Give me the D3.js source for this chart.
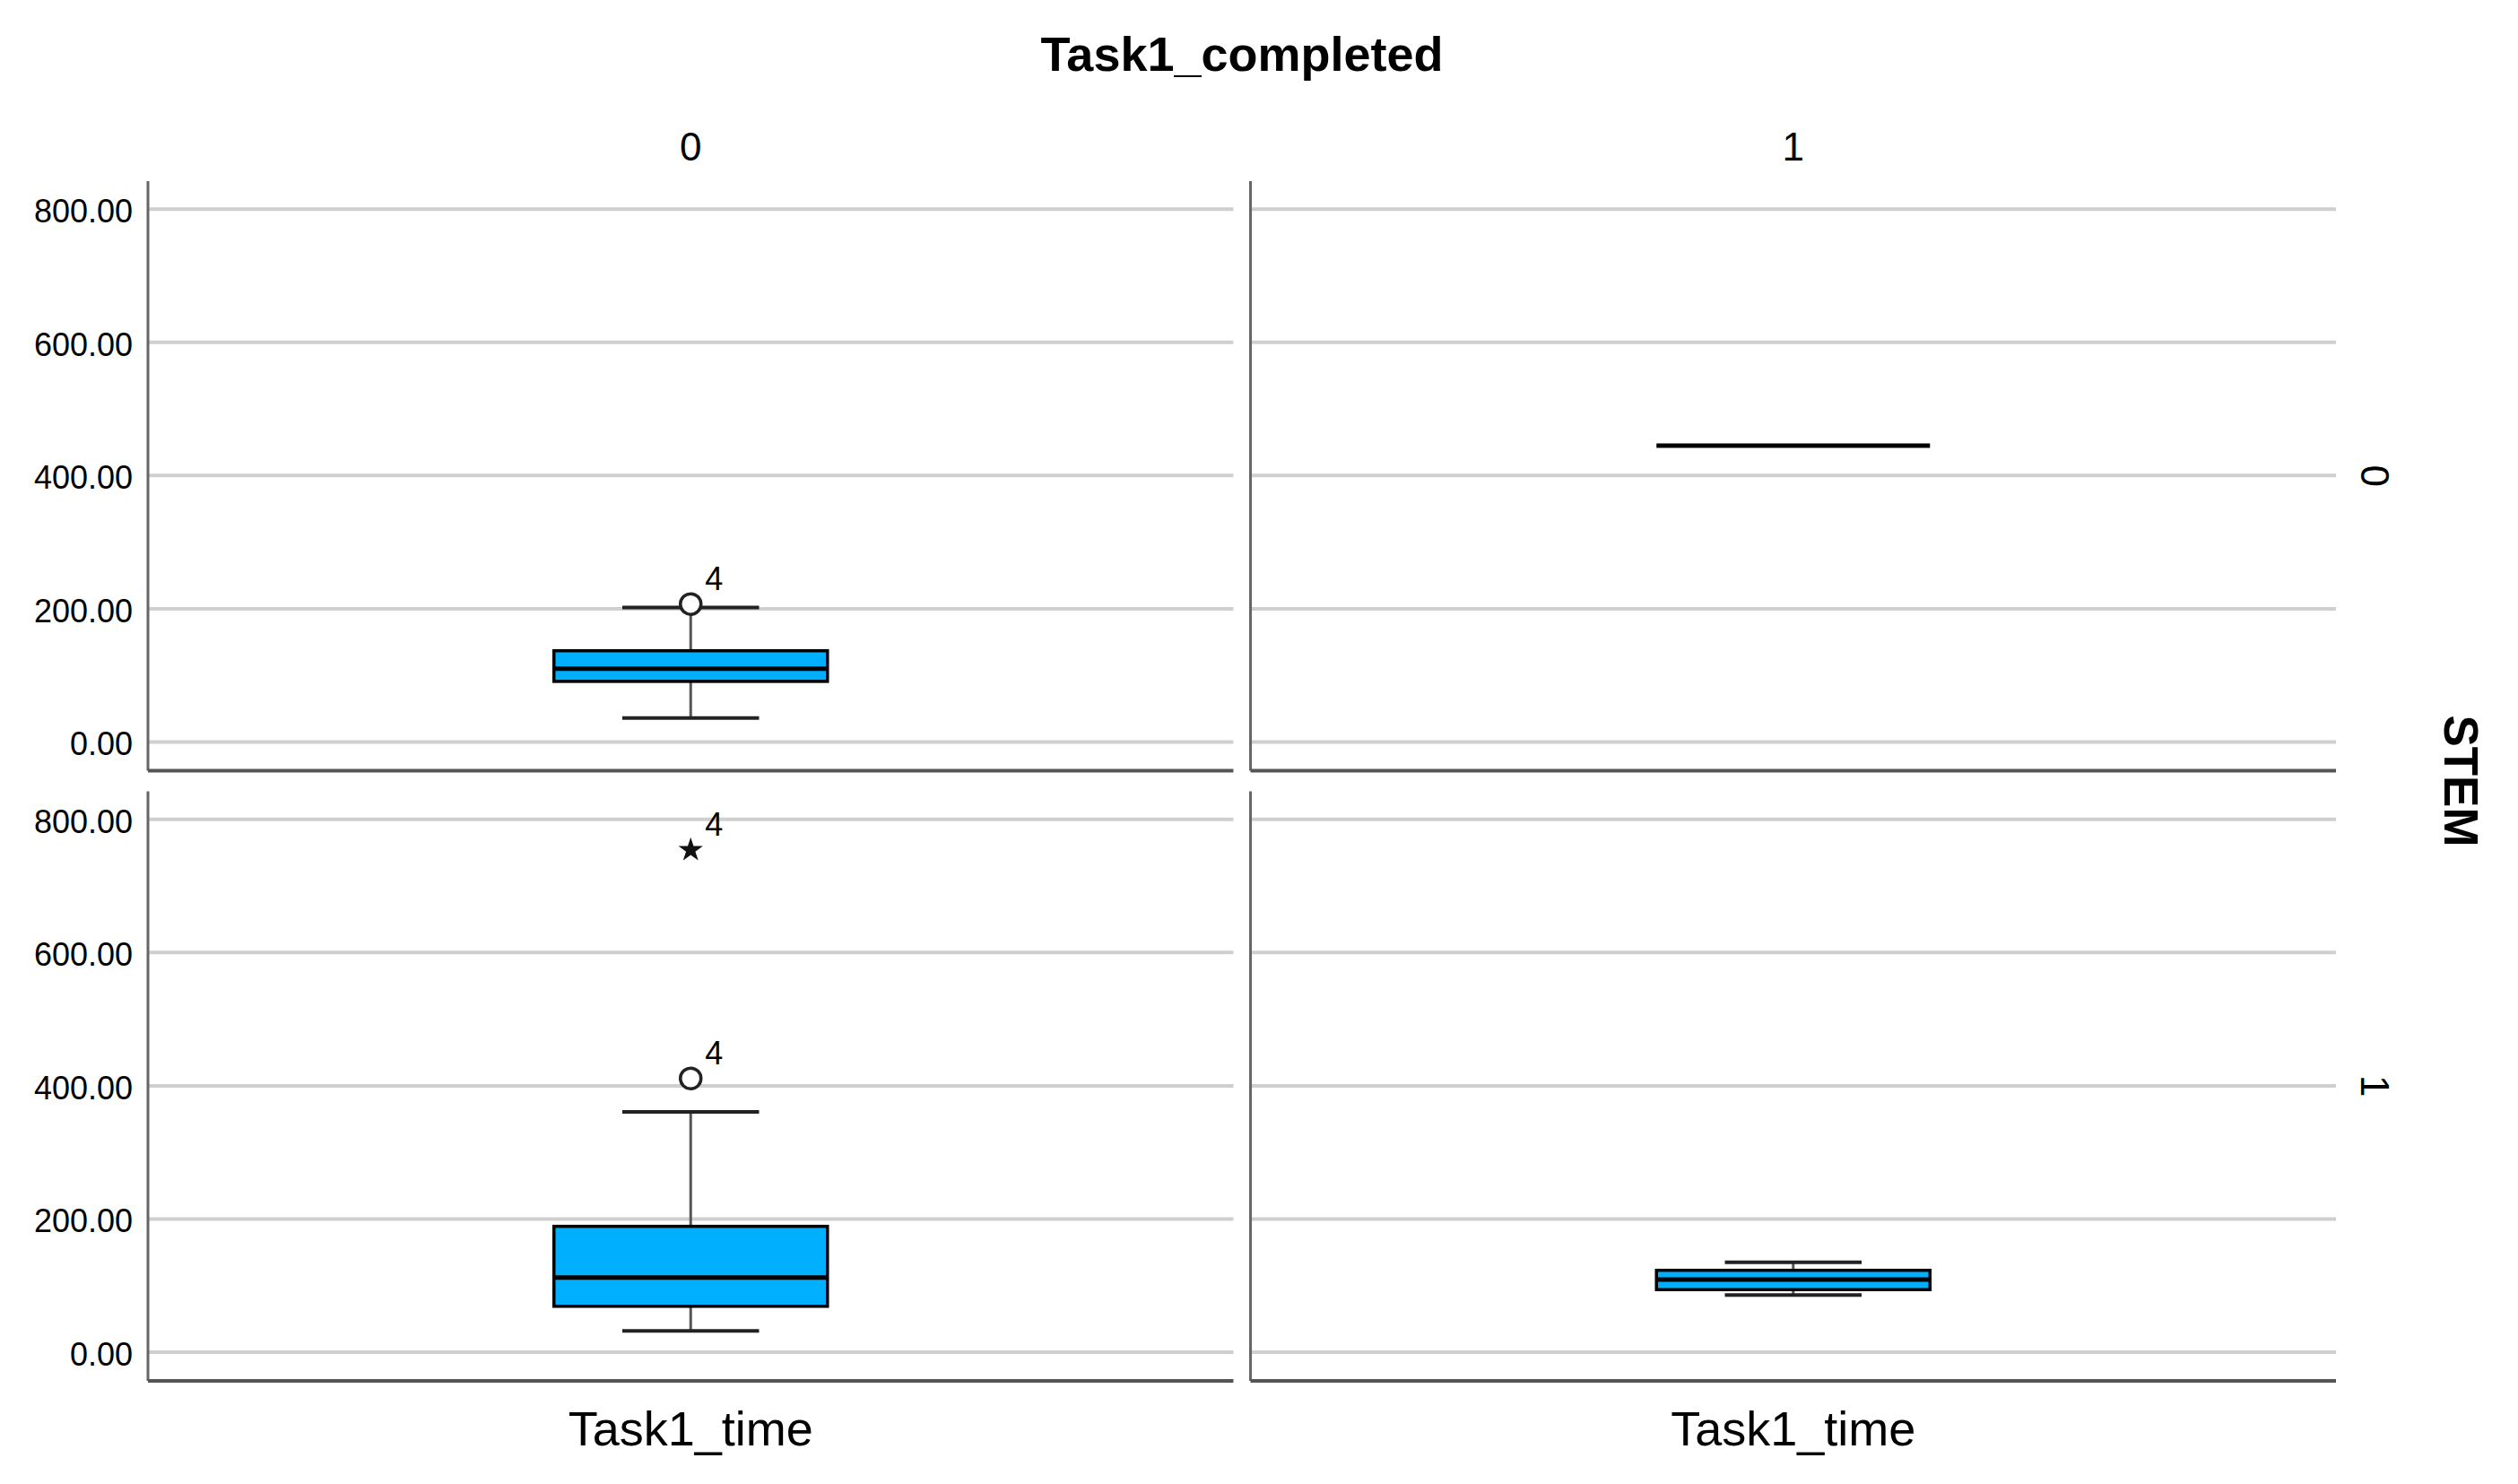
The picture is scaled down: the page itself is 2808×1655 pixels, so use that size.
<!DOCTYPE html>
<html><head><meta charset="utf-8">
<script src="https://cdn.jsdelivr.net/npm/d3@7"></script>
<style>html,body{margin:0;padding:0;background:#fff;}svg{display:block;font-family:"Liberation Sans",Arial,sans-serif;}</style>
</head><body>
<script>
// ---- data ----
const colCategories = ["0", "1"];          // Task1_completed
const rowCategories = ["0", "1"];          // STEM
const variableName = "Task1_time";
const yTicks = [0, 200, 400, 600, 800];
// one entry per panel: [row, col]
const panelRow   = ["0", "0", "1", "1"];
const panelCol   = ["0", "1", "0", "1"];
const whiskerLow = [36, 445, 32, 86];
const q1Values   = [91, 445, 69, 94];
const medians    = [110, 445, 112, 109];
const q3Values   = [137, 445, 189, 123];
const whiskerHigh= [202, 445, 361, 135];
// outliers
const outlierRow   = ["0", "1", "1"];
const outlierCol   = ["0", "0", "0"];
const outlierValue = [207, 411, 754];
const outlierKind  = ["circle", "circle", "star"];
const outlierLabel = ["4", "4", "4"];

// ---- layout ----
const W = 2808, H = 1655;
const svg = d3.select("body").append("svg").attr("width", W).attr("height", H);
const colX = d3.scaleBand().domain(colCategories).range([165, 2605]).paddingInner(0.0155);
const rowY = d3.scaleBand().domain(rowCategories).range([202, 1540]).paddingInner(0.034);
const pw = colX.bandwidth(), ph = rowY.bandwidth();
const y = d3.scaleLinear().domain([-43, 842]).range([ph, 0]);
const x = d3.scalePoint().domain([variableName]).range([0, pw]).padding(0.5);
const boxW = pw * 0.252, capW = boxW * 0.5;

// title
svg.append("text").attr("x", 1385).attr("y", 79).attr("text-anchor", "middle")
  .attr("font-size", 54).attr("font-weight", "bold").text("Task1_completed");
// column headers
colCategories.forEach(c => {
  svg.append("text").attr("x", colX(c) + pw / 2).attr("y", 179).attr("text-anchor", "middle")
    .attr("font-size", 44).text(c);
});
// row headers
rowCategories.forEach(r => {
  svg.append("text").attr("transform", `translate(2633,${rowY(r) + ph / 2}) rotate(90)`)
    .attr("text-anchor", "middle").attr("font-size", 44).text(r);
});
svg.append("text").attr("transform", `translate(2726,${(202 + 1540) / 2}) rotate(90)`)
  .attr("text-anchor", "middle").attr("font-size", 53).attr("font-weight", "bold").text("STEM");

// panels
rowCategories.forEach(r => {
  colCategories.forEach(c => {
    const g = svg.append("g").attr("transform", `translate(${colX(c)},${rowY(r)})`);
    // grid
    g.selectAll("line.grid").data(yTicks).join("line").attr("class", "grid")
      .attr("x1", 0).attr("x2", pw).attr("y1", d => y(d)).attr("y2", d => y(d))
      .attr("stroke", "#cfcfcf").attr("stroke-width", 4);
    // left axis line
    g.append("line").attr("x1", 0).attr("x2", 0).attr("y1", 0).attr("y2", ph)
      .attr("stroke", "#666").attr("stroke-width", 3);
    // bottom axis line
    g.append("line").attr("x1", 0).attr("x2", pw).attr("y1", ph).attr("y2", ph)
      .attr("stroke", "#555").attr("stroke-width", 4);
    // tick labels for the first column
    if (c === colCategories[0]) {
      const ax = g.append("g").call(d3.axisLeft(y).tickValues(yTicks).tickSize(0).tickPadding(17)
        .tickFormat(d3.format(".2f")));
      ax.select(".domain").remove();
      ax.selectAll("text").attr("font-size", 36).attr("font-family", "Liberation Sans, Arial, sans-serif")
        .attr("fill", "#000").attr("dy", "0.4em");
    }
  });
});

// category labels
colCategories.forEach(c => {
  svg.append("text").attr("x", colX(c) + x(variableName)).attr("y", 1612).attr("text-anchor", "middle")
    .attr("font-size", 54).text(variableName);
});

// boxes
panelRow.forEach((r, i) => {
  const g = svg.append("g").attr("transform", `translate(${colX(panelCol[i])},${rowY(r)})`);
  const cx = x(variableName);
  // whiskers
  g.append("line").attr("x1", cx).attr("x2", cx).attr("y1", y(whiskerHigh[i])).attr("y2", y(q3Values[i]))
    .attr("stroke", "#555").attr("stroke-width", 3);
  g.append("line").attr("x1", cx).attr("x2", cx).attr("y1", y(q1Values[i])).attr("y2", y(whiskerLow[i]))
    .attr("stroke", "#555").attr("stroke-width", 3);
  if (whiskerHigh[i] !== q3Values[i]) {
    [whiskerHigh[i], whiskerLow[i]].forEach(v => {
      g.append("line").attr("x1", cx - capW / 2).attr("x2", cx + capW / 2).attr("y1", y(v)).attr("y2", y(v))
        .attr("stroke", "#222").attr("stroke-width", 4);
    });
  }
  // box
  g.append("rect").attr("x", cx - boxW / 2).attr("width", boxW)
    .attr("y", y(q3Values[i])).attr("height", y(q1Values[i]) - y(q3Values[i]))
    .attr("fill", "#00b0ff").attr("stroke", "#000").attr("stroke-width", 3.5);
  // median
  g.append("line").attr("x1", cx - boxW / 2).attr("x2", cx + boxW / 2)
    .attr("y1", y(medians[i])).attr("y2", y(medians[i])).attr("stroke", "#000").attr("stroke-width", 5);
});

// outliers
const star = d3.symbol().type(d3.symbolStar).size(230);
outlierRow.forEach((r, i) => {
  const g = svg.append("g").attr("transform", `translate(${colX(outlierCol[i])},${rowY(r)})`);
  const cx = x(variableName), cy = y(outlierValue[i]);
  if (outlierKind[i] === "circle") {
    g.append("circle").attr("cx", cx).attr("cy", cy).attr("r", 11.5)
      .attr("fill", "#fff").attr("stroke", "#222").attr("stroke-width", 3.5);
  } else {
    g.append("path").attr("d", star).attr("transform", `translate(${cx},${cy})`).attr("fill", "#111");
  }
  g.append("text").attr("x", cx + 16).attr("y", cy - 16).attr("font-size", 36).text(outlierLabel[i]);
});
</script>
</body></html>
